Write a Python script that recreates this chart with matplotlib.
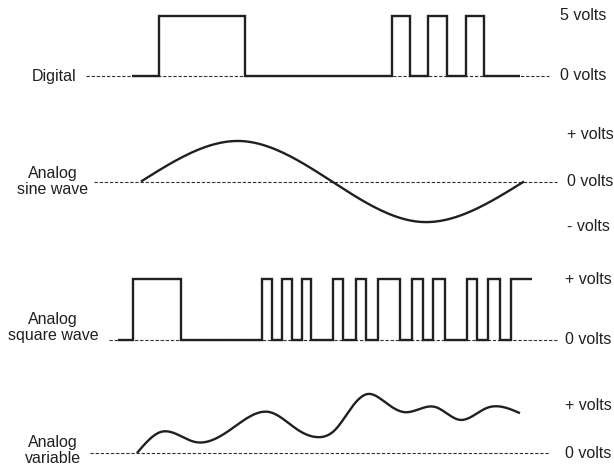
import numpy as np
import matplotlib
matplotlib.use("Agg")
import matplotlib.pyplot as plt

plt.rcParams['font.family'] = ['Liberation Sans', 'DejaVu Sans']

# ---------------- data (time units along a shared horizontal axis) -------------
digital_t = [132, 159, 245, 392, 410, 428, 447, 466, 484, 520]
digital_v = [0, 5, 0, 5, 0, 5, 0, 5, 0, 0]

sine_t = [141, 240, 332, 422, 524]
sine_v = [0, 1, 0, -1, 0]

square_t = [118, 133, 181, 262, 272, 282, 292, 302, 311, 333, 343, 356, 366,
            378, 400, 412, 423, 433, 445, 467, 477, 488, 500, 511, 532]
square_v = [0, 1, 0, 1, 0, 1, 0, 1, 0, 1, 0, 1, 0,
            1, 0, 1, 0, 1, 0, 1, 0, 1, 0, 1, 1]

variable_t = [137, 161, 195, 230, 270, 298, 318, 335, 352, 368, 385, 405,
              435, 460, 487, 520]
variable_v = [0, 0.44, 0.23, 0.48, 0.85, 0.48, 0.33, 0.48, 0.96, 1.23, 1.06,
              0.85, 0.96, 0.69, 0.94, 0.83]

labels_left = ["Digital", "Analog\nsine wave", "Analog\nsquare wave", "Analog\nvariable"]
digital_right = ["5 volts", "0 volts"]
sine_right = ["+ volts", "0 volts", "- volts"]
square_right = ["+ volts", "0 volts"]
variable_right = ["+ volts", "0 volts"]

# ---------------- styling ------------------------------------------------------
W, H = 614, 468
INK = '#231f20'
DASH = '#333333'
FS = 11.5
fig = plt.figure(figsize=(W / 100, H / 100), dpi=100)


def panel(base_px, top_px, vlo, vhi):
    ax = fig.add_axes([0, (H - base_px) / H, 1, (base_px - top_px) / H])
    ax.set_xlim(0, W)
    ax.set_ylim(vlo, vhi)
    ax.axis('off')
    return ax


def smooth(t, v, n=40):
    """Natural cubic spline through the read points (drawing only)."""
    t = np.asarray(t, float)
    v = np.asarray(v, float)
    k = len(t)
    h = np.diff(t)
    A = np.zeros((k, k))
    r = np.zeros(k)
    A[0, 0] = A[-1, -1] = 1
    for i in range(1, k - 1):
        A[i, i - 1] = h[i - 1]
        A[i, i] = 2 * (h[i - 1] + h[i])
        A[i, i + 1] = h[i]
        r[i] = 6 * ((v[i + 1] - v[i]) / h[i] - (v[i] - v[i - 1]) / h[i - 1])
    M = np.linalg.solve(A, r)
    xs, ys = [], []
    for i in range(k - 1):
        x = np.linspace(t[i], t[i + 1], n, endpoint=(i == k - 2))
        a = (t[i + 1] - x) / h[i]
        b = (x - t[i]) / h[i]
        y = (a * v[i] + b * v[i + 1]
             + ((a**3 - a) * M[i] + (b**3 - b) * M[i + 1]) * h[i]**2 / 6)
        xs.append(x)
        ys.append(y)
    return np.concatenate(xs), np.concatenate(ys)


def baseline(ax, x0, x1):
    ax.hlines(0, x0, x1, colors=DASH, linewidth=0.8,
              linestyles=(0, (3, 1.6)), zorder=1, clip_on=False)


wave_kw = dict(color=INK, linewidth=1.7, solid_joinstyle='miter',
               solid_capstyle='butt', zorder=3, clip_on=False)
txt_kw = dict(color=INK, fontsize=FS, clip_on=False)
LS = 1.1

# Digital
ax1 = panel(76, 16, 0, 5)
baseline(ax1, 86, 549)
ax1.plot(digital_t, digital_v, drawstyle='steps-post', **wave_kw)
ax1.text(76, 0, labels_left[0], ha='right', va='center', **txt_kw)
ax1.text(560, 5, digital_right[0], ha='left', va='center', **txt_kw)
ax1.text(560, 0, digital_right[1], ha='left', va='center', **txt_kw)

# Sine
ax2 = panel(222, 141, -1, 1)
baseline(ax2, 94, 557)
sx, sy = smooth(sine_t, sine_v)
ax2.plot(sx, sy, **wave_kw)
ax2.text(53, 0, labels_left[1], ha='center', va='center', multialignment='center',
         linespacing=LS, **txt_kw)
ax2.text(567, 1.15, sine_right[0], ha='left', va='center', **txt_kw)
ax2.text(567, 0, sine_right[1], ha='left', va='center', **txt_kw)
ax2.text(567, -1.12, sine_right[2], ha='left', va='center', **txt_kw)

# Square
ax3 = panel(340, 279, 0, 1)
baseline(ax3, 109, 558)
ax3.plot(square_t, square_v, drawstyle='steps-post', **wave_kw)
ax3.text(53, 0.2, labels_left[2], ha='center', va='center', multialignment='center',
         linespacing=LS, **txt_kw)
ax3.text(565, 1, square_right[0], ha='left', va='center', **txt_kw)
ax3.text(565, 0, square_right[1], ha='left', va='center', **txt_kw)

# Variable
ax4 = panel(453, 405, 0, 1)
baseline(ax4, 90, 550)
vx, vy = smooth(variable_t, variable_v)
ax4.plot(vx, vy, **wave_kw)
ax4.text(53, 0.05, labels_left[3], ha='center', va='center', multialignment='center',
         linespacing=LS, **txt_kw)
ax4.text(565, 1, variable_right[0], ha='left', va='center', **txt_kw)
ax4.text(565, 0, variable_right[1], ha='left', va='center', **txt_kw)

fig.savefig('out.png', dpi=100, facecolor='white')
